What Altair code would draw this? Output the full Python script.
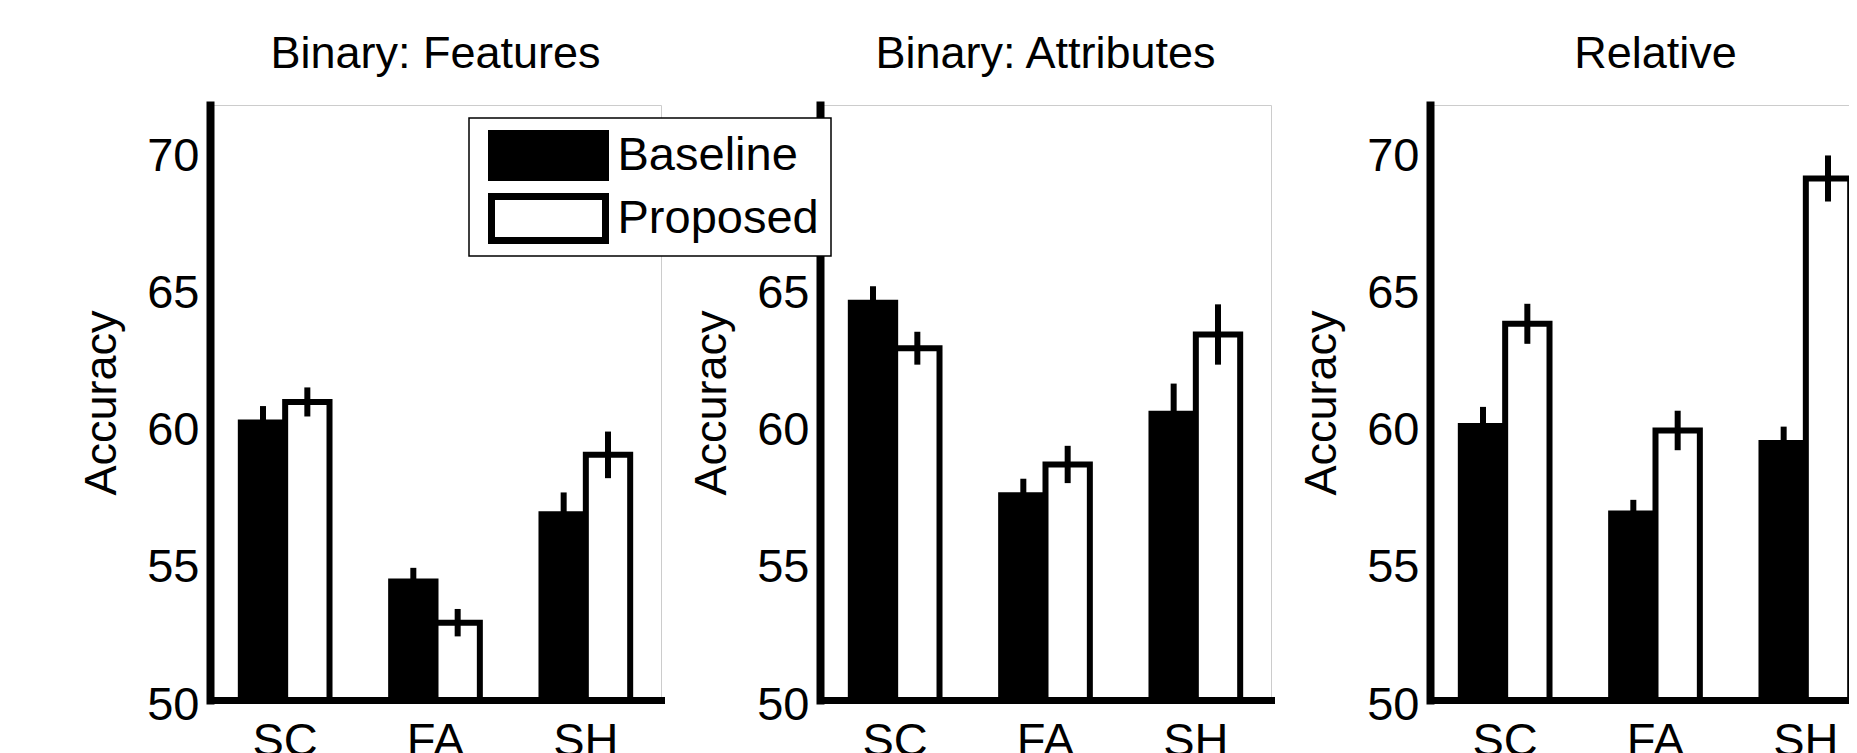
import altair as alt
import pandas as pd

# ---------------- data ----------------
categories = ["SC", "FA", "SH"]
series_names = ["Baseline", "Proposed"]
panel_titles = ["Binary: Features", "Binary: Attributes", "Relative"]

feat_baseline = [60.12, 54.32, 56.77]
feat_baseline_err = [0.6, 0.5, 0.8]
feat_proposed = [60.87, 52.82, 58.94]
feat_proposed_err = [0.53, 0.5, 0.85]

attr_baseline = [64.49, 57.47, 60.44]
attr_baseline_err = [0.6, 0.6, 1.1]
attr_proposed = [62.83, 58.59, 63.33]
attr_proposed_err = [0.6, 0.68, 1.1]

rel_baseline = [59.99, 56.8, 59.37]
rel_baseline_err = [0.7, 0.5, 0.6]
rel_proposed = [63.72, 59.83, 69.02]
rel_proposed_err = [0.73, 0.72, 0.84]

y_ticks = [50, 55, 60, 65, 70]
y_domain = [50, 71.7]

FONT = "Liberation Sans"


def make_frame(base_vals, base_err, prop_vals, prop_err):
    rows = []
    for i, c in enumerate(categories):
        rows.append({"category": c, "series": "Baseline", "value": base_vals[i],
                     "lo": base_vals[i] - base_err[i], "hi": base_vals[i] + base_err[i]})
        rows.append({"category": c, "series": "Proposed", "value": prop_vals[i],
                     "lo": prop_vals[i] - prop_err[i], "hi": prop_vals[i] + prop_err[i]})
    return pd.DataFrame(rows)


legend = alt.Legend(
    title=None,
    orient="none",
    legendX=259,
    legendY=13,
    zindex=1,
    direction="vertical",
    symbolType="M-2.562,-0.989H2.562V0.989H-2.562Z",
    symbolSize=1980,
    symbolStrokeColor="black",
    symbolStrokeWidth=7,
    symbolOffset=42,
    labelOffset=43,
    labelFont=FONT,
    labelFontSize=47,
    labelColor="black",
    labelLimit=500,
    padding=11.5,
    rowPadding=11,
    clipHeight=52,
    strokeColor="black",
    fillColor="white",
)

x_enc = alt.X(
    "category:N",
    sort=categories,
    scale=alt.Scale(paddingInner=0.41, paddingOuter=0.205),
    axis=alt.Axis(
        title=None, labelAngle=0, ticks=False, grid=False,
        labelPadding=18, labelFont=FONT, labelFontSize=47, labelColor="black",
        domainColor="black", domainWidth=7, domainCap="square",
    ),
)
xoff_enc = alt.XOffset("series:N", sort=series_names,
                       scale=alt.Scale(paddingInner=0, paddingOuter=0))

y_axis = alt.Axis(
    title="Accuracy", values=y_ticks, ticks=False, grid=False,
    labelPadding=11, labelOffset=5, labelFont=FONT, labelFontSize=47,
    labelColor="black", domainColor="black", domainWidth=8, domainCap="square",
    titleFont=FONT, titleFontSize=45, titleFontWeight="normal", titleColor="black",
    titlePadding=22,
)


def panel(df, title):
    base = alt.Chart(df)
    bars = base.mark_bar(stroke="black", strokeWidth=6).encode(
        x=x_enc,
        xOffset=xoff_enc,
        y=alt.Y("value:Q", scale=alt.Scale(domain=y_domain, nice=False, zero=False), axis=y_axis),
        y2=alt.datum(50),
        fill=alt.Fill("series:N", scale=alt.Scale(domain=series_names, range=["black", "white"]),
                      legend=legend),
    )
    errs = base.mark_rule(color="black", strokeWidth=6).encode(
        x=x_enc,
        xOffset=xoff_enc,
        y=alt.Y("lo:Q"),
        y2=alt.Y2("hi:Q"),
    )
    return alt.layer(bars, errs, title=alt.Title(
        title, font=FONT, fontSize=45, fontWeight="normal", color="black",
        anchor="middle", frame="group", baseline="alphabetic", offset=-7.5,
    )).properties(width=451, height=595)


p1 = panel(make_frame(feat_baseline, feat_baseline_err, feat_proposed, feat_proposed_err), panel_titles[0])
p2 = panel(make_frame(attr_baseline, attr_baseline_err, attr_proposed, attr_proposed_err), panel_titles[1])
p3 = panel(make_frame(rel_baseline, rel_baseline_err, rel_proposed, rel_proposed_err), panel_titles[2])

chart = alt.hconcat(p1, p2, p3, spacing=159, bounds="flush").properties(
    autosize=alt.AutoSizeParams(type="none"),
    padding={"left": 202, "top": 97, "right": 1639, "bottom": 648},
    background="white",
).configure_view(stroke="#cccccc", strokeWidth=1).configure_legend(strokeWidth=1.5)

chart.save("out.html", embed_options={"renderer": "svg", "actions": False})
